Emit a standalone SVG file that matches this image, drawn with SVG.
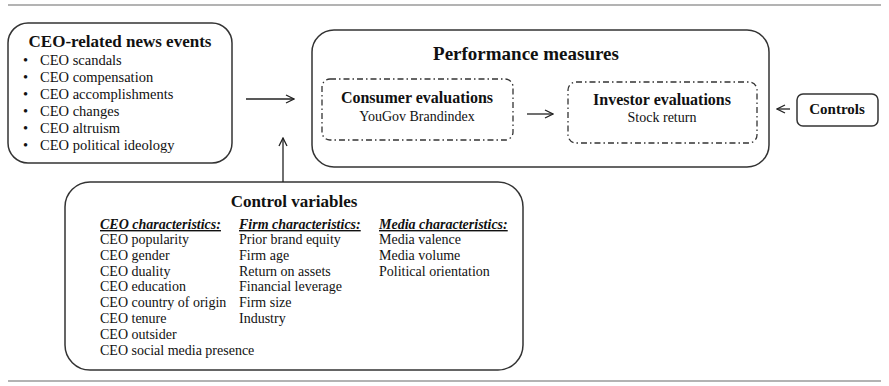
<svg xmlns="http://www.w3.org/2000/svg" width="889" height="386" viewBox="0 0 889 386">
<style>
.box{fill:none;stroke:#333;stroke-width:1.5}
.dash{fill:none;stroke:#333;stroke-width:1.3;stroke-dasharray:6 3 1.5 3}
.t{font-family:"Liberation Serif","Times New Roman",serif;fill:#111}
.b{font-weight:bold}
.c{text-anchor:middle}
.conn{stroke:#222;stroke-width:1.3;fill:none}
.rule{stroke:#9a9a9a;stroke-width:1.5}
.h{font-style:italic;font-weight:bold;text-decoration:underline}
</style>
<defs>
<marker id="ah" viewBox="0 0 10 10" refX="9" refY="5" markerWidth="10" markerHeight="10" markerUnits="userSpaceOnUse" orient="auto">
<path d="M1,1 L9,5 L1,9" fill="none" stroke="#222" stroke-width="1.3"/>
</marker>
</defs>
<line class="rule" x1="8" y1="5" x2="881" y2="5"/>
<line class="rule" x1="8" y1="381" x2="881" y2="381"/>

<g id="news">
<rect class="box" x="8" y="23" width="224" height="140" rx="20"/>
<text class="t b c" x="120" y="47" font-size="17">CEO-related news events</text>
<g class="t" font-size="14.5">
<text x="23" y="65">•</text><text x="40" y="65">CEO scandals</text>
<text x="23" y="82">•</text><text x="40" y="82">CEO compensation</text>
<text x="23" y="99">•</text><text x="40" y="99">CEO accomplishments</text>
<text x="23" y="116">•</text><text x="40" y="116">CEO changes</text>
<text x="23" y="133">•</text><text x="40" y="133">CEO altruism</text>
<text x="23" y="150">•</text><text x="40" y="150">CEO political ideology</text>
</g>
</g>

<g id="performance">
<rect class="box" x="312" y="30" width="457" height="137" rx="22"/>
<text class="t b c" x="526" y="60" font-size="19">Performance measures</text>
</g>

<g id="consumer">
<rect class="dash" x="322" y="79" width="191" height="61" rx="8"/>
<text class="t b c" x="417" y="103" font-size="16">Consumer evaluations</text>
<text class="t c" x="417" y="121" font-size="14">YouGov Brandindex</text>
</g>

<g id="investor">
<rect class="dash" x="568" y="82" width="189" height="61" rx="8"/>
<text class="t b c" x="662" y="105" font-size="16">Investor evaluations</text>
<text class="t c" x="662" y="122" font-size="14">Stock return</text>
</g>

<g id="controls">
<rect class="box" x="797" y="94" width="81" height="32" rx="6"/>
<text class="t b c" x="837" y="114" font-size="15">Controls</text>
</g>

<g id="controlvars">
<rect class="box" x="65" y="182" width="458" height="188" rx="25"/>
<text class="t b c" x="294" y="207" font-size="17">Control variables</text>
<g class="t" font-size="14">
<text class="h" x="100" y="229">CEO characteristics:</text>
<text x="100" y="244">CEO popularity</text>
<text x="100" y="260">CEO gender</text>
<text x="100" y="276">CEO duality</text>
<text x="100" y="291">CEO education</text>
<text x="100" y="307">CEO country of origin</text>
<text x="100" y="323">CEO tenure</text>
<text x="100" y="339">CEO outsider</text>
<text x="100" y="355">CEO social media presence</text>
<text class="h" x="239" y="229">Firm characteristics:</text>
<text x="239" y="244">Prior brand equity</text>
<text x="239" y="260">Firm age</text>
<text x="239" y="276">Return on assets</text>
<text x="239" y="291">Financial leverage</text>
<text x="239" y="307">Firm size</text>
<text x="239" y="323">Industry</text>
<text class="h" x="379" y="229">Media characteristics:</text>
<text x="379" y="244">Media valence</text>
<text x="379" y="260">Media volume</text>
<text x="379" y="276">Political orientation</text>
</g>
</g>

<g id="connectors">
<line class="conn" x1="246" y1="99" x2="294" y2="99" marker-end="url(#ah)"/>
<line class="conn" x1="283" y1="182" x2="283" y2="138" marker-end="url(#ah)"/>
<line class="conn" x1="527" y1="114" x2="553" y2="114" marker-end="url(#ah)"/>
<line class="conn" x1="790" y1="109" x2="777" y2="109" marker-end="url(#ah)"/>
</g>
</svg>
